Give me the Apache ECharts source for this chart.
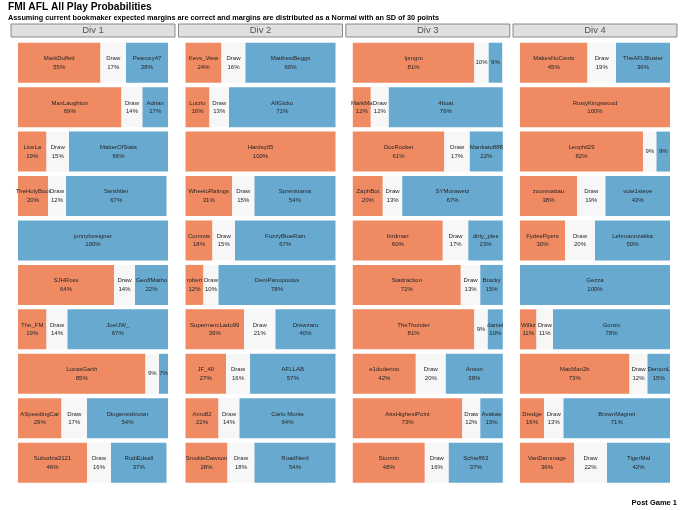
<!DOCTYPE html>
<html lang="en">
<head>
    <meta charset="UTF-8">
    <title>FMI AFL All Play Probabilities</title>
    <script src="https://cdn.jsdelivr.net/npm/echarts@6/dist/echarts.min.js"></script>
    <style>
        html, body { margin: 0; padding: 0; background: #fff; }
        #main { width: 680px; height: 510px; }
    </style>
</head>
<body>
    <div id="main"></div>

    <script>
        // facets
        var divisions = ['Div 1', 'Div 2', 'Div 3', 'Div 4'];
        var rows = ['1', '2', '3', '4', '5', '6', '7', '8', '9', '10'];

        // Div 1
        var div1Home = ['MarkDuffett', 'MaxLaughton', 'LiveLa', 'TheHolyBoot', '', 'SJHRoss', 'The_FM', 'LucasGarth', 'ASpeedingCar', 'Suburbia3121'];
        var div1HomeP = [55, 69, 19, 20, 0, 64, 19, 85, 29, 46];
        var div1DrawP = [17, 14, 15, 12, 0, 14, 14, 9, 17, 16];
        var div1Away = ['Pearcey47', 'Adrian', 'MatterOfStats', 'Swishtler', 'jonnyforeigner', 'GeoffMatho', 'JoeUW_', '', 'Diogenesbrown', 'RudiEdsall'];
        var div1AwayP = [28, 17, 66, 67, 100, 22, 67, 7, 54, 37];

        // Div 2
        var div2Home = ['Kevs_View', 'Lucrio', 'Hardsy05', 'WheeloRatings', 'Commis', 'robert', 'SupermercLado99', 'JF_40', 'Amu82', 'SmokieDawson'];
        var div2HomeP = [24, 16, 100, 31, 18, 12, 39, 27, 22, 28];
        var div2DrawP = [16, 13, 0, 15, 15, 10, 21, 16, 14, 18];
        var div2Away = ['MatthewBeggs', 'AflGicko', '', 'Sprenstama', 'FuzzyBlueRain', 'DemPanopoulos', 'Drewzaru', 'AFLLAB', 'Carlo Monte', 'RoadNerd'];
        var div2AwayP = [60, 71, 0, 54, 67, 78, 40, 57, 64, 54];

        // Div 3
        var div3Home = ['lpmgro', 'MarkMa', 'DocRocket', 'ZaphBot', 'birdman', 'Stattraction', 'TheThunder', 'e1duderino', 'AttsHighestPoint', 'Stormin'];
        var div3HomeP = [81, 12, 61, 20, 60, 72, 81, 42, 73, 48];
        var div3DrawP = [9.6, 12, 17, 13, 17, 13, 9, 20, 12, 16];
        var div3Away = ['', '4boat', 'Mankato888', 'SYMorawetz', 'dirty_pies', 'Bracky', 'daniel', 'Anson', 'Avakae', 'Schieff63'];
        var div3AwayP = [9, 76, 22, 67, 23, 15, 10, 38, 15, 37];

        // Div 4
        var div4Home = ['MakesNoCents', 'RustyKingswood', 'Lenphil29', 'zoonmattau', 'FydesFlyers', '', 'Wilkz', 'MacMan2b', 'Dredge', 'VanDammage'];
        var div4HomeP = [45, 100, 82, 38, 30, 0, 11, 73, 16, 36];
        var div4DrawP = [19, 0, 9, 19, 20, 0, 11, 12, 13, 22];
        var div4Away = ['TheAFLBluster', '', '', 'vote1steve', 'Lehmannzakka', 'Gezza', 'Gonzo', 'DemonL', 'BrownMagnet', 'TigerMal'];
        var div4AwayP = [36, 0, 9, 43, 50, 100, 78, 15, 71, 42];

        var homeNames = [div1Home, div2Home, div3Home, div4Home];
        var homeP = [div1HomeP, div2HomeP, div3HomeP, div4HomeP];
        var drawP = [div1DrawP, div2DrawP, div3DrawP, div4DrawP];
        var awayNames = [div1Away, div2Away, div3Away, div4Away];
        var awayP = [div1AwayP, div2AwayP, div3AwayP, div4AwayP];

        var colors = ['#ef8a62', '#f7f7f7', '#67a9cf'];
        var font = '"Liberation Sans", Arial, sans-serif';

        var myChart = echarts.init(document.getElementById('main'), null, { renderer: 'canvas' });

        // panel layout
        var panelLeft = [18, 185.5, 352.8, 520];
        var panelW = 150;
        var panelTop = 40.5;
        var panelH = 444.4;

        // label text: name only when share is at least 10%
        function makeData(vals, names) {
            return vals.map(function (v, i) {
                var pct = Math.round(v) + '%';
                var txt = (v >= 10 && names[i]) ? names[i] + '\n' + pct : pct;
                return {
                    value: v,
                    label: { show: v > 0, formatter: txt }
                };
            });
        }

        var grids = [], xAxes = [], yAxes = [], series = [], graphics = [];

        divisions.forEach(function (d, k) {
            grids.push({ left: panelLeft[k], top: panelTop, width: panelW, height: panelH });
            xAxes.push({
                gridIndex: k, type: 'value', min: 0, max: 100, show: false
            });
            yAxes.push({
                gridIndex: k, type: 'category', data: rows, inverse: true, show: false
            });

            var drawNames = rows.map(function () { return 'Draw'; });
            var parts = [
                makeData(homeP[k], homeNames[k]),
                makeData(drawP[k], drawNames),
                makeData(awayP[k], awayNames[k])
            ];
            parts.forEach(function (p, j) {
                series.push({
                    type: 'bar',
                    xAxisIndex: k,
                    yAxisIndex: k,
                    stack: 'div' + k,
                    barCategoryGap: '10%',
                    data: p,
                    itemStyle: { color: colors[j] },
                    label: {
                        position: 'inside',
                        color: '#262626',
                        fontSize: 6,
                        lineHeight: 8.5,
                        fontFamily: font
                    },
                    silent: true,
                    animation: false
                });
            });

            // facet strip
            graphics.push({
                type: 'rect',
                shape: { x: panelLeft[k] - 7, y: 24, width: panelW + 14, height: 13 },
                style: { fill: '#e0e0e0', stroke: '#6e6e6e', lineWidth: 0.8 }
            });
            graphics.push({
                type: 'text',
                x: panelLeft[k] + panelW / 2,
                y: 30.8,
                style: {
                    text: d, fill: '#555', fontSize: 9.5, fontFamily: font,
                    align: 'center', verticalAlign: 'middle'
                }
            });
        });

        var option = {
            backgroundColor: '#fff',
            animation: false,
            title: [{
                text: 'FMI AFL All Play Probabilities',
                left: 8, top: 2, padding: 0,
                textStyle: { fontSize: 10.2, fontWeight: 'bold', color: '#000', fontFamily: font }
            }, {
                text: 'Assuming current bookmaker expected margins are correct and margins are distributed as a Normal with an SD of 30 points',
                left: 8, top: 14.5, padding: 0,
                textStyle: { fontSize: 7.3, fontWeight: 'bold', color: '#000', fontFamily: font }
            }, {
                text: 'Post Game 1',
                right: 3, top: 499, padding: 0,
                textStyle: { fontSize: 7.5, fontWeight: 'bold', color: '#000', fontFamily: font }
            }],
            grid: grids,
            xAxis: xAxes,
            yAxis: yAxes,
            series: series,
            graphic: graphics
        };

        myChart.setOption(option);
    </script>
</body>
</html>
